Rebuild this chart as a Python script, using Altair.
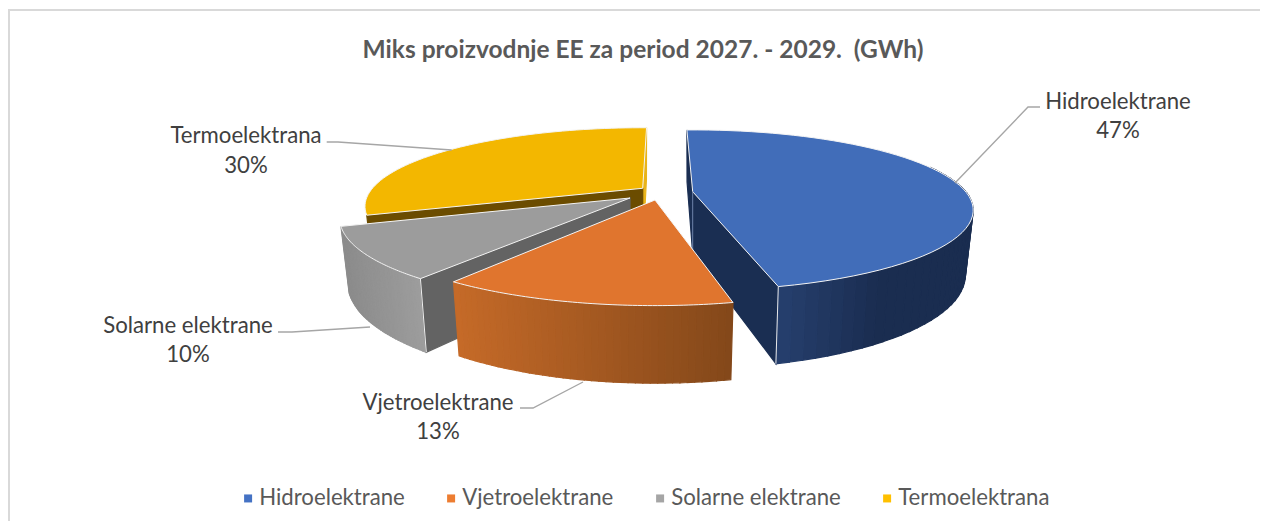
import math
import altair as alt
import pandas as pd

CATEGORIES = ["Hidroelektrane", "Vjetroelektrane", "Solarne elektrane", "Termoelektrana"]
SHARES = [47, 13, 10, 30]
LEGEND_COLORS = ["#4472C4", "#ED7D31", "#A5A5A5", "#FFC000"]
TOP_COLORS = ["#416DB9", "#E0752E", "#9C9C9C", "#F3B700"]
TITLE = "Miks proizvodnje EE za period 2027. - 2029.\u00a0 (GWh)"

# page pixel -> chart pixel
OFF = 8
def P(x, y):
    return [x - OFF, y - OFF]

# 3-D look of the exploded pie
FIRST_ANGLE = -1.5
RX, RY, PERSP, DEPTH, LOWER = 273, 76, 0.23, 62, 0.972
APEX = [(692.7, 191.7), (655, 200), (630, 198), (642.7, 188.3)]
SCALE = [(1, 1), (1.04, 1.07), (1.035, 1.09), (0.99, 0.98)]
ANGLE_ADJ = [(0, -1.8), (0, 0.7), (2.8, 1.0), (0, 2.5)]

angles = []
c = FIRST_ANGLE
for s, adj in zip(SHARES, ANGLE_ADJ):
    a0, a1 = c, c + s * 3.6
    angles.append((a0 + adj[0], a1 + adj[1]))
    c = a1

def top(i, th):
    t = math.radians(th)
    X, Y = math.sin(t), -math.cos(t)
    s = 1 / (1 - PERSP * Y)
    return (APEX[i][0] + RX * X * s * SCALE[i][0], APEX[i][1] + RY * Y * s * SCALE[i][1])

def bottom(i, th):
    t = math.radians(th)
    X, Y = math.sin(t), -math.cos(t)
    s = 1 / (1 - PERSP * Y)
    return (APEX[i][0] + LOWER * RX * X * s * SCALE[i][0],
            APEX[i][1] + LOWER * RY * Y * s * SCALE[i][1] + DEPTH * s)

def apex_low(i):
    return (APEX[i][0], APEX[i][1] + DEPTH)

def poly(points, fill):
    ring = [P(*p) for p in points]
    ring.append(ring[0])
    return {"type": "Feature", "geometry": {"type": "Polygon", "coordinates": [ring]},
            "properties": {"fill": fill}}

def line(points, color):
    return {"type": "Feature", "geometry": {"type": "LineString", "coordinates": [P(*p) for p in points]},
            "properties": {"stroke": color}}

def mix(c1, c2, f):
    f = max(0, min(1, f))
    a = [int(c1[k:k + 2], 16) for k in (1, 3, 5)]
    b = [int(c2[k:k + 2], 16) for k in (1, 3, 5)]
    return "#" + "".join(f"{round(p + (q - p) * f):02x}" for p, q in zip(a, b))

def arc(i, a0, a1, n=60):
    return [top(i, a0 + (a1 - a0) * k / n) for k in range(n + 1)]

def rim(i, a0, a1, xl, xr, cl, cr, n=40):
    out = []
    for k in range(n):
        u, v = a0 + (a1 - a0) * k / n, a0 + (a1 - a0) * (k + 1) / n
        pts = [top(i, u), top(i, v), bottom(i, v), bottom(i, u)]
        xm = (pts[0][0] + pts[1][0]) / 2
        out.append(poly(pts, mix(cl, cr, (xm - xl) / (xr - xl))))
    return out

H, W, S, T = 0, 1, 2, 3
layers = []

def wall_layer(feats):
    return alt.Chart(alt.Data(values=feats)).mark_geoshape(strokeWidth=1.2).encode(
        fill=alt.Fill("properties.fill:N", scale=None),
        stroke=alt.Stroke("properties.fill:N", scale=None),
    ).project(type="identity", scale=1, translate=[0, 0])

def top_layer(feats):
    return alt.Chart(alt.Data(values=feats)).mark_geoshape(stroke="#F4F4F4", strokeWidth=1).encode(
        fill=alt.Fill("properties.fill:N", scale=None),
    ).project(type="identity", scale=1, translate=[0, 0])

def line_layer(feats, width):
    return alt.Chart(alt.Data(values=feats)).mark_geoshape(filled=False, strokeWidth=width).encode(
        stroke=alt.Stroke("properties.stroke:N", scale=None),
    ).project(type="identity", scale=1, translate=[0, 0])

def slice_shape(i):
    return [APEX[i]] + arc(i, *angles[i])

# thermal (back)
a0, a1 = angles[T]
layers.append(wall_layer([
    poly([top(T, a1), APEX[T], apex_low(T), bottom(T, a1)], "#E9B41A"),
    poly([APEX[T], top(T, a0), bottom(T, a0), apex_low(T)], "#6B4C00"),
]))
layers.append(top_layer([poly(slice_shape(T), TOP_COLORS[T])]))

# hydro
a0, a1 = angles[H]
layers.append(wall_layer(
    [poly([top(H, a0), APEX[H], apex_low(H), bottom(H, a0)], "#1A2E52")]
    + [poly([APEX[H], top(H, a1), bottom(H, a1), apex_low(H)], "#1A2E52")]
    + rim(H, 70, a1, 780, 880, "#263F6E", "#1A2D50")
))
layers.append(top_layer([poly(slice_shape(H), TOP_COLORS[H])]))
layers.append(line_layer([line([top(H, a1), bottom(H, a1)], "#E8E8E8"),
                          line([APEX[H], apex_low(H)], "#6F84AC")], 1))

# solar
a0, a1 = angles[S]
layers.append(wall_layer(
    rim(S, a0, a1, 345, 425, "#8C8C8C", "#9E9E9E")
    + [poly([APEX[S], top(S, a0), bottom(S, a0), apex_low(S)], "#636363")]
))
layers.append(top_layer([poly(slice_shape(S), TOP_COLORS[S])]))
layers.append(line_layer([line([top(S, a0), bottom(S, a0)], "#F0F0F0")], 1))

# wind (front)
a0, a1 = angles[W]
layers.append(wall_layer(rim(W, a0, a1, 455, 730, "#C56A28", "#84481A")))
layers.append(top_layer([poly(slice_shape(W), TOP_COLORS[W])]))

# leader lines
LEADERS = [
    [(955, 183), (1028, 107), (1040, 107)],
    [(326.7, 142), (338, 142), (451.7, 150)],
    [(278, 332), (292, 332), (370, 327)],
    [(520, 408), (533, 408), (583, 382)],
]
layers.append(line_layer([line(l, "#A6A6A6") for l in LEADERS], 1.4))

# frame
layers.append(line_layer([line([(9, 521), (9, 10), (1260, 10)], "#D9D9D9")], 2))

# data labels
PCT = [f"{v}%" for v in SHARES]
LABEL_X = [1118, 438, 188, 246]
LABEL_Y1 = [102, 403, 326, 136]
LABEL_Y2 = [131, 432, 355, 166]
rows = []
for n, p, x, y1, y2 in zip(CATEGORIES, PCT, LABEL_X, LABEL_Y1, LABEL_Y2):
    rows.append({"t": n, "x": x - OFF, "y": y1 - OFF})
    rows.append({"t": p, "x": x - OFF, "y": y2 - OFF})
layers.append(alt.Chart(pd.DataFrame(rows)).mark_text(
    font="Lato", fontSize=22.2, color="#404040", baseline="middle", align="center"
).encode(x=alt.X("x:Q", scale=None, axis=None), y=alt.Y("y:Q", scale=None, axis=None), text="t:N"))

# title
layers.append(alt.Chart(pd.DataFrame({"t": [TITLE], "x": [643 - OFF], "y": [51 - OFF]})).mark_text(
    font="Lato", fontSize=24.5, fontWeight="bold", color="#595959", baseline="middle", align="center"
).encode(x=alt.X("x:Q", scale=None, axis=None), y=alt.Y("y:Q", scale=None, axis=None), text="t:N"))

# legend
layers.append(alt.Chart(pd.DataFrame({"c": CATEGORIES})).mark_point(
    opacity=0, filled=True, shape="square"
).encode(
    x=alt.value(0), y=alt.value(0),
    color=alt.Color("c:N", scale=alt.Scale(domain=CATEGORIES, range=LEGEND_COLORS), legend=alt.Legend(
        title=None, orient="none", legendX=229, legendY=479, direction="horizontal", columns=4,
        symbolType="square", symbolSize=64, symbolOpacity=1, symbolStrokeWidth=0,
        labelFont="Lato", labelFontSize=22.2, labelColor="#595959", labelOffset=0,
        columnPadding=35, padding=0, labelLimit=400,
    )),
))

chart = alt.layer(*layers).properties(
    width=1252, height=513, padding=0,
    autosize=alt.AutoSizeParams(type="none"),
    background="white",
).configure_view(stroke=None)

chart.save("out.html", embed_options={"renderer": "svg", "actions": False})
